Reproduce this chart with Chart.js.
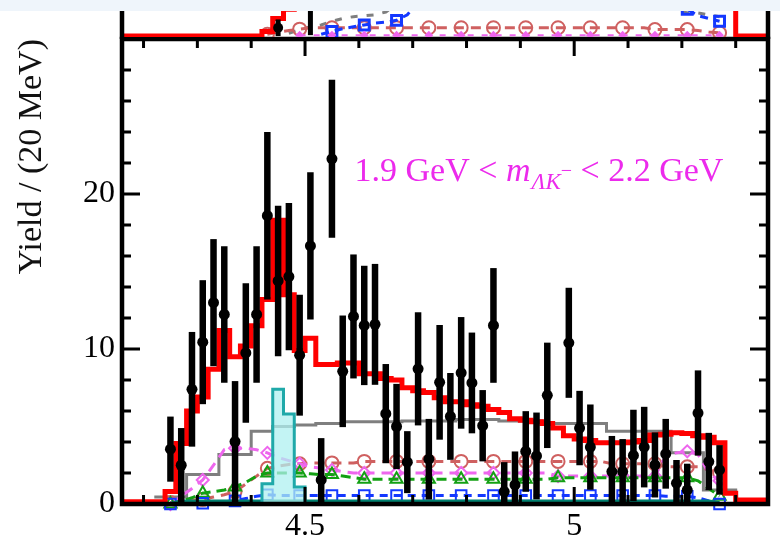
<!DOCTYPE html>
<html><head><meta charset="utf-8">
<script src="https://cdn.jsdelivr.net/npm/chart.js@4.4.0/dist/chart.umd.min.js"></script>
<style>
html,body{margin:0;padding:0;background:#fff;}
#wrap{position:relative;width:780px;height:543px;overflow:hidden;}
#main{position:absolute;left:0;top:0;}
#top{position:absolute;left:0;top:0;}
#band{position:absolute;left:0;top:0;width:780px;height:11px;background:#eff5fb;}
</style></head><body>
<div id="wrap">
<canvas id="main" width="780" height="543"></canvas>
<canvas id="top" width="780" height="39"></canvas>
<div id="band"></div>
</div>
<script>
// ---------- data (lower panel) ----------
const massBins = [4.25,4.27,4.29,4.31,4.33,4.35,4.37,4.39,4.41,4.43,4.45,4.47,4.49,4.51,4.53,4.55,4.57,4.59,4.61,4.63,4.65,4.67,4.69,4.71,4.73,4.75,4.77,4.79,4.81,4.83,4.85,4.87,4.89,4.91,4.93,4.95,4.97,4.99,5.01,5.03,5.05,5.07,5.09,5.11,5.13,5.15,5.17,5.19,5.21,5.23,5.25,5.27];
const yieldData = [3.54,2.5,7.4,10.44,12.99,12.23,4.03,9.75,12.23,18.6,14.39,14.67,9.6,16.65,1.55,22.27,8.56,12.1,11.52,11.59,5.83,5.0,2.7,8.72,2.89,7.85,5.65,8.46,7.81,5.05,11.52,0.8,1.23,3.39,3.1,7.01,null,10.4,4.9,3.67,null,2.09,2.09,3.13,3.67,2.52,3.24,1.34,0.9,5.87,2.74,2.2];
const yieldErr = [2.1,2.4,3.7,4.0,4.1,4.4,3.9,4.5,4.4,5.4,4.85,4.75,3.9,4.75,2.7,5.1,3.6,4.0,3.85,3.9,3.2,2.75,2.0,3.65,2.6,3.7,2.8,3.6,3.25,2.3,3.7,1.9,2.16,2.6,2.8,3.4,null,3.55,2.4,2.75,null,2.3,2.1,2.95,2.6,2.1,2.25,1.5,1.7,2.75,1.85,1.6];

const fitEdges = [4.16,4.18,4.20,4.22,4.24,4.26,4.28,4.30,4.32,4.34,4.36,4.38,4.40,4.42,4.44,4.46,4.48,4.50,4.52,4.54,4.56,4.58,4.60,4.62,4.64,4.66,4.68,4.70,4.72,4.74,4.76,4.78,4.80,4.82,4.84,4.86,4.88,4.90,4.92,4.94,4.96,4.98,5.00,5.02,5.04,5.06,5.08,5.10,5.12,5.14,5.16,5.18,5.20,5.22,5.24,5.26,5.28,5.30,5.32,5.34,5.36];
const fitTotal = [0.15,0.15,0.15,0.15,0.8,3.9,6.0,6.9,8.7,11.2,9.5,10.2,11.5,13.2,18.3,13.5,9.9,10.7,9.0,9.0,9.1,9.1,8.4,8.4,8.1,8.0,7.5,7.3,7.2,6.85,6.6,6.6,6.4,6.3,6.1,5.9,5.5,5.4,5.3,5.2,4.9,4.4,4.2,4.1,3.95,3.95,3.95,4.0,4.1,4.45,4.5,4.6,4.55,4.4,4.3,3.95,0.7,0.26,0.26,0.26];

const bkgEdges = [4.22,4.28,4.34,4.40,4.44,4.48,4.52,4.57,4.68,4.78,4.86,4.94,5.06,5.18,5.24,5.30];
const bkgVals  = [0.45,1.9,3.2,4.7,5.0,5.1,5.2,5.3,5.35,5.45,5.35,5.2,4.7,3.3,0.9,0];

const peakEdges = [4.40,4.42,4.44,4.46,4.48,4.50];
const peakVals  = [0,1.3,7.4,5.8,1.1,0];

const compCircle = [0.1,0.2,0.25,0.3,0.45,0.6,0.8,1.3,1.8,2.3,2.45,2.55,2.6,2.65,2.65,2.65,2.65,2.65,2.75,2.75,2.75,2.75,2.75,2.75,2.75,2.75,2.75,2.75,2.75,2.75,2.75,2.75,2.75,2.75,2.75,2.75,2.75,2.75,2.75,2.75,2.75,2.6,2.6,2.6,2.6,2.6,2.4,2.4,2.4,2.4,2.2,2.0];
const compDiamond = [0.0,0.5,1.0,1.55,2.5,3.5,3.6,3.6,3.5,3.3,3.0,2.8,2.6,2.4,2.3,2.2,2.1,2.0,2.0,2.0,2.0,2.0,2.0,2.0,2.0,2.0,2.0,2.0,2.0,2.0,2.0,2.0,2.0,2.0,2.0,2.0,1.8,1.8,1.8,1.8,1.8,1.8,1.8,1.8,1.8,1.8,3.1,3.3,3.4,3.2,2.0,1.5];
const compTriangle = [0,0.2,0.4,0.7,0.8,0.9,1.1,1.4,1.8,2.0,2.0,2.0,2.0,1.95,1.9,1.9,1.8,1.7,1.6,1.6,1.6,1.6,1.6,1.6,1.6,1.6,1.6,1.6,1.6,1.6,1.6,1.6,1.6,1.6,1.6,1.6,1.7,1.7,1.7,1.7,1.7,1.7,1.7,1.7,1.7,1.7,1.7,1.7,1.7,1.5,1.0,0.5];
const compSquare = [0,0,0,0.05,0.1,0.15,0.2,0.35,0.5,0.6,0.55,0.55,0.55,0.55,0.55,0.55,0.55,0.55,0.55,0.55,0.55,0.55,0.55,0.55,0.55,0.55,0.55,0.55,0.55,0.55,0.55,0.55,0.55,0.55,0.55,0.55,0.55,0.55,0.55,0.55,0.55,0.55,0.55,0.55,0.55,0.55,0.5,0.5,0.5,0.4,0.2,0.0];
const compFlat = [0.05,0.2,0.2,0.2,0.2,0.2,0.2,0.2,0.2,0.2,0.2,0.2,0.2,0.2,0.2,0.2,0.2,0.2,0.2,0.2,0.2,0.2,0.2,0.2,0.2,0.2,0.2,0.2,0.2,0.2,0.2,0.2,0.2,0.2,0.2,0.2,0.2,0.2,0.2,0.2,0.2,0.2,0.2,0.2,0.2,0.2,0.2,0.2,0.2,0.2,0.2,0.1];

// axis ticks and labels
const xTickValues = [4.2,4.3,4.4,4.5,4.6,4.7,4.8,4.9,5.0,5.1,5.2,5.3];
const xMajorTicks = [4.5, 5.0];
const xMajorLabels = ['4.5', '5'];
const yTickValues = [0,2,4,6,8,10,12,14,16,18,20,22,24,26,28,30];
const yMajorTicks = [0, 10, 20];
const yMajorLabels = ['0', '10', '20'];
const yTitle = 'Yield / (20 MeV)';
const annText = ['1.9 GeV < ', 'm', 'ΛK', '−', ' < 2.2 GeV'];

// ---------- data (upper panel, partly visible) ----------
const topFitEdges = [4.16,4.42,4.44,4.46,4.48,5.30,5.36];
const topFitVals  = [0.1,0.6,2.0,3.0,9,0.1,0.1];
const topBins  = [4.45, 4.51];
const topYield = [1.0, 5.0];
const topErr   = [0.9, 4.8];
const topCircle = [null,null,null,null,null,null,null,null,null,0.3,0.5,0.7,0.85,1,1,1,1,1,1,1,1,1,1,1,1,1,1,1,1,1,1,1,1,1,1,1,1,1,1,1,1,1,1,1,1,0.8,0.8,0.8,0.8,0.7,0.55,0.45];
const topGray = [null,null,null,null,null,null,null,null,null,null,null,0.4,0.8,1.1,1.3,1.7,2.0,2.2,2.3,2.4,2.7,3.5,3.5,3.5,3.5,3.5,3.5,3.5,3.5,3.5,3.5,3.5,3.5,3.5,3.5,3.5,3.5,3.5,3.5,3.5,3.5,3.5,3.5,3.5,3.5,3.5,3.5,3.0,2.6,2.6,2.4,2.2];
const topSquare = [null,null,null,null,null,null,null,null,null,null,null,null,null,null,0.3,0.6,0.9,1.1,1.3,1.5,1.6,1.8,2.4,3.8,3.8,3.8,3.8,3.8,3.8,3.8,3.8,3.8,3.8,3.8,3.8,3.8,3.8,3.8,3.8,3.8,3.8,3.8,3.8,3.8,3.8,3.8,3.8,3.8,3.0,2.3,2.0,1.7];
const topDiamond = [null,null,null,null,null,null,null,null,null,null,null,null,0.2,0.2,0.2,0.2,0.2,0.2,0.2,0.2,0.2,0.2,0.2,0.2,0.2,0.2,0.2,0.2,0.2,0.2,0.2,0.2,0.2,0.2,0.2,0.2,0.2,0.2,0.2,0.2,0.2,0.2,0.2,0.2,0.2,0.2,0.2,0.2,0.2,0.2,0.2,0.2];

// ---------- helpers ----------
const SERIF = "'Liberation Serif', 'DejaVu Serif', serif";
const pts = (xs, ys) => xs.map((x, i) => ({x, y: ys[i]}));
const histPts = (edges, vals) => edges.map((x, i) => ({x, y: vals[Math.min(i, vals.length - 1)]}));
const every3 = (r) => (c) => (c.dataIndex % 3 === 0 ? r : 0);
const near = (a, b) => Math.abs(a - b) < 1e-6;

function compDataset(vals, color, style, radius, dash, order) {
  return {
    data: pts(massBins, vals), borderColor: color, borderWidth: 3, borderDash: dash,
    pointStyle: style, pointRadius: every3(radius), pointBorderColor: color,
    pointBackgroundColor: 'rgba(255,255,255,0)', pointBorderWidth: 2,
    tension: 0, spanGaps: false, fill: false, order, clip: 10
  };
}

const errorBars = {
  id: 'errorBars',
  beforeDatasetDraw(chart, args) {
    const ds = chart.data.datasets[args.index];
    if (!ds.errors) return;
    const {ctx, scales: {x, y}, chartArea: a} = chart;
    ctx.save();
    ctx.beginPath(); ctx.rect(a.left, a.top, a.right - a.left, a.bottom - a.top); ctx.clip();
    ctx.strokeStyle = '#000'; ctx.lineWidth = ds.errWidth || 6.5; ctx.lineCap = 'butt';
    ds.data.forEach((p, i) => {
      const e = ds.errors[i];
      if (p.y == null || e == null) return;
      const px = x.getPixelForValue(p.x);
      ctx.beginPath();
      ctx.moveTo(px, y.getPixelForValue(p.y + e));
      ctx.lineTo(px, y.getPixelForValue(Math.max(0, p.y - e)));
      ctx.stroke();
    });
    ctx.restore();
  }
};

const frame = {
  id: 'frame',
  afterDraw(chart) {
    const {ctx, chartArea: a, scales: {x, y}} = chart;
    ctx.save();
    ctx.strokeStyle = '#000';
    ctx.lineWidth = 3;
    ctx.beginPath();
    x.ticks.forEach(t => {
      const px = x.getPixelForValue(t.value);
      const L = xMajorTicks.some(m => near(m, t.value)) ? 17 : 9;
      ctx.moveTo(px, a.bottom); ctx.lineTo(px, a.bottom - L);
      ctx.moveTo(px, a.top); ctx.lineTo(px, a.top + L);
    });
    y.ticks.forEach(t => {
      const py = y.getPixelForValue(t.value);
      const L = yMajorTicks.some(m => near(m, t.value)) ? 18 : 9;
      ctx.moveTo(a.left, py); ctx.lineTo(a.left + L, py);
      ctx.moveTo(a.right, py); ctx.lineTo(a.right - L, py);
    });
    ctx.stroke();
    ctx.lineWidth = 4.5;
    ctx.strokeRect(a.left, a.top, a.right - a.left, a.bottom - a.top);
    ctx.restore();
  }
};

const annotation = {
  id: 'annotation',
  afterDatasetsDraw(chart, args, opts) {
    const {ctx, scales: {x, y}} = chart;
    let px = x.getPixelForValue(opts.at[0]);
    const py = y.getPixelForValue(opts.at[1]);
    const fonts = [
      {f: `34px ${SERIF}`, dy: 0},
      {f: `italic 34px ${SERIF}`, dy: 0},
      {f: `italic 23px ${SERIF}`, dy: 8},
      {f: `20px ${SERIF}`, dy: -4},
      {f: `34px ${SERIF}`, dy: 0}
    ];
    ctx.save();
    ctx.fillStyle = opts.color; ctx.textAlign = 'left'; ctx.textBaseline = 'alphabetic';
    annText.forEach((t, i) => {
      ctx.font = fonts[i].f;
      ctx.fillText(t, px, py + fonts[i].dy);
      px += ctx.measureText(t).width + (i === 1 ? 1 : 0);
    });
    ctx.restore();
  }
};

// ---------- lower (main) panel ----------
new Chart(document.getElementById('main'), {
  type: 'line',
  data: {
    datasets: [
      {data: pts(massBins, yieldData), errors: yieldErr, showLine: false, pointRadius: 5.5,
       pointBackgroundColor: '#000', pointBorderColor: '#000', pointBorderWidth: 0, order: 0},
      {data: histPts(fitEdges, fitTotal), stepped: 'before', borderColor: '#ff0000', borderWidth: 5,
       pointRadius: 0, fill: false, order: 1, borderJoinStyle: 'miter'},
      {data: histPts(peakEdges, peakVals), stepped: 'before', borderColor: '#1fa9a9', borderWidth: 3,
       backgroundColor: 'rgba(175,240,240,0.75)', fill: 'origin', pointRadius: 0, order: 2},
      compDataset(compFlat, '#00806f', 'circle', 0, [], 3),
      compDataset(compSquare, '#1438ff', 'rect', 7.5, [8, 6], 4),
      compDataset(compTriangle, '#13a013', 'triangle', 7, [10, 6], 5),
      compDataset(compDiamond, '#ee66ee', 'rectRot', 6, [10, 7], 6),
      compDataset(compCircle, '#cf6060', 'circle', 6.5, [10, 7], 7),
      {data: histPts(bkgEdges, bkgVals), stepped: 'before', borderColor: '#7f7f7f', borderWidth: 3,
       pointRadius: 0, fill: false, order: 8}
    ]
  },
  options: {
    responsive: false, animation: false, events: [],
    layout: {autoPadding: false, padding: {left: 0, right: 12, top: 39, bottom: 0}},
    scales: {
      x: {
        type: 'linear', min: 4.16, max: 5.36,
        grid: {display: false, drawTicks: false}, border: {display: false},
        afterBuildTicks: (s) => { s.ticks = xTickValues.map(v => ({value: v})); },
        afterFit: (s) => { s.height = 39; },
        ticks: {
          autoSkip: false, maxRotation: 0, minRotation: 0, padding: 7,
          color: '#000', font: {family: SERIF, size: 32, lineHeight: 1},
          callback: (v) => { const i = xMajorTicks.findIndex(m => near(m, v)); return i >= 0 ? xMajorLabels[i] : ''; }
        }
      },
      y: {
        min: 0, max: 30,
        grid: {display: false, drawTicks: false}, border: {display: false},
        afterBuildTicks: (s) => { s.ticks = yTickValues.map(v => ({value: v})); },
        afterFit: (s) => { s.width = 122; },
        ticks: {
          autoSkip: false, padding: 7, color: '#000', font: {family: SERIF, size: 32},
          callback: (v) => { const i = yMajorTicks.findIndex(m => near(m, v)); return i >= 0 ? yMajorLabels[i] : ''; }
        },
        title: {display: true, text: yTitle, align: 'end', color: '#111', font: {family: SERIF, size: 34},
                padding: {top: 12, bottom: 0}}
      }
    },
    plugins: {
      legend: {display: false}, tooltip: {enabled: false},
      annotation: {at: [4.592, 20.85], color: '#ec2aec'}
    }
  },
  plugins: [errorBars, annotation, frame]
});

// ---------- upper panel (bottom edge visible) ----------
const topFrame = {
  id: 'topFrame',
  afterDraw(chart) {
    const {ctx, chartArea: a} = chart;
    ctx.save(); ctx.strokeStyle = '#000'; ctx.lineWidth = 4.5;
    ctx.beginPath();
    ctx.moveTo(a.left, 0); ctx.lineTo(a.left, chart.height);
    ctx.moveTo(a.right, 0); ctx.lineTo(a.right, chart.height);
    ctx.stroke(); ctx.restore();
  }
};
new Chart(document.getElementById('top'), {
  type: 'line',
  data: {
    datasets: [
      {data: pts(topBins, topYield), errors: topErr, errWidth: 5, showLine: false, pointRadius: 5,
       pointBackgroundColor: '#000', pointBorderWidth: 0, order: 0},
      {data: histPts(topFitEdges, topFitVals), stepped: 'before', borderColor: '#ff0000', borderWidth: 5,
       pointRadius: 0, fill: false, order: 1},
      {data: pts(massBins, topDiamond), borderColor: '#ee66ee', borderWidth: 2, borderDash: [6, 8],
       pointStyle: 'rectRot', pointRadius: every3(3), pointBorderColor: '#ee66ee', pointBackgroundColor: '#ee66ee', order: 2},
      {data: pts(massBins, topSquare), borderColor: '#1438ff', borderWidth: 3, borderDash: [8, 6],
       pointStyle: 'rect', pointRadius: every3(7), pointBorderColor: '#1438ff', pointBackgroundColor: 'rgba(0,0,0,0)', order: 3},
      {data: pts(massBins, topCircle), borderColor: '#cf6060', borderWidth: 3, borderDash: [10, 7],
       pointStyle: 'circle', pointRadius: every3(6.5), pointBorderColor: '#cf6060', pointBorderWidth: 2,
       pointBackgroundColor: 'rgba(255,255,255,0)', order: 4},
      {data: pts(massBins, topGray), borderColor: '#7f7f7f', borderWidth: 3, borderDash: [7, 9],
       pointRadius: 0, order: 5}
    ]
  },
  options: {
    responsive: false, animation: false, events: [],
    layout: {autoPadding: false, padding: {left: 122, right: 12, top: 0, bottom: 2}},
    scales: {x: {type: 'linear', display: false, min: 4.16, max: 5.36}, y: {display: false, min: 0, max: 4}},
    plugins: {legend: {display: false}, tooltip: {enabled: false}}
  },
  plugins: [errorBars, topFrame]
});
</script></body></html>
